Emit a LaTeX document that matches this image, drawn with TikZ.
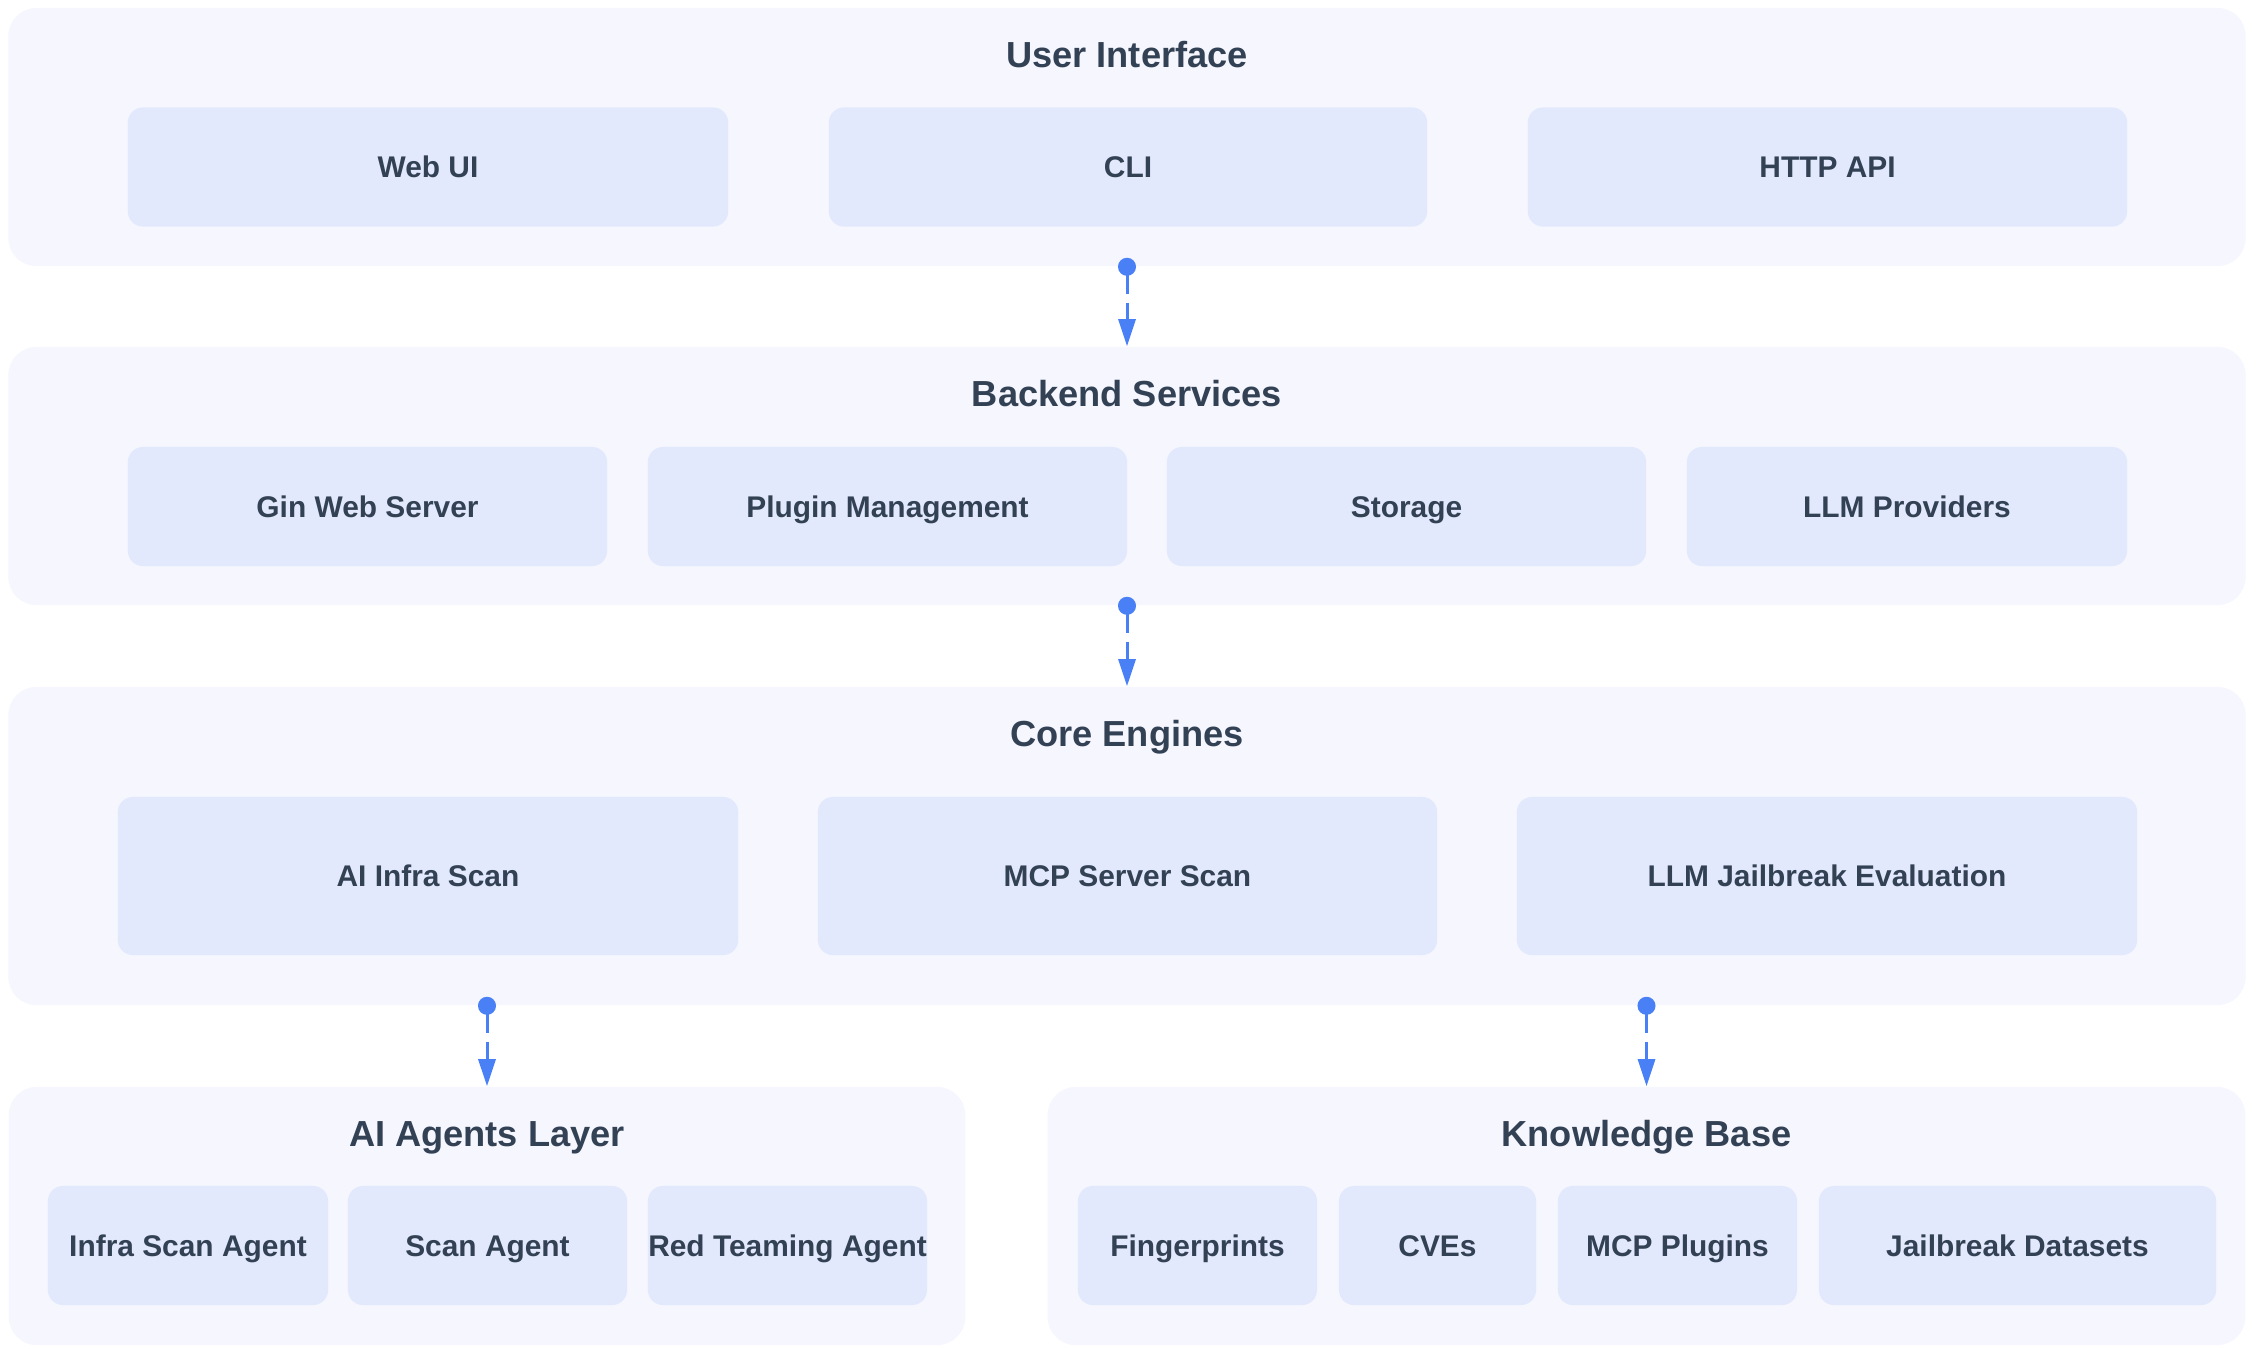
\documentclass[tikz,border=0pt]{standalone}
\usepackage{fontspec}
\setmainfont{Liberation Sans}
\usetikzlibrary{arrows.meta}
\definecolor{layerfill}{HTML}{F5F6FE}
\definecolor{boxfill}{HTML}{E3E9FC}
\definecolor{labeltext}{HTML}{334155}
\definecolor{linkblue}{HTML}{4A80F5}
\begin{document}
\begin{tikzpicture}[x=0.01cm,y=-0.01cm,
  layer/.style={fill=layerfill,rounded corners=2.8mm,inner sep=0pt,minimum height=2.58cm},
  part/.style={fill=boxfill,rounded corners=1.5mm,inner sep=0pt,minimum height=1.19cm,
    text height=6.1pt,text depth=0pt,font=\fontsize{8.5}{10}\bfseries,text=labeltext},
  title/.style={anchor=base,inner sep=0pt,font=\fontsize{10.3}{12}\bfseries,text=labeltext},
  link/.style={linkblue,line width=0.3mm,dash pattern=on 2mm off 0.9mm,
    {Circle[length=1.8mm]}-{Triangle[length=2.7mm,width=1.7mm]},shorten <=-0.9mm}]
\useasboundingbox (0,0) rectangle (2260,1348);
% layers
\node[layer,minimum width=22.36cm] (ui) at (1127,137) {};
\node[layer,minimum width=22.36cm] (be) at (1127,476) {};
\node[layer,minimum width=22.36cm,minimum height=3.18cm] (core) at (1127,846) {};
\node[layer,minimum width=9.56cm] (agents) at (487,1216) {};
\node[layer,minimum width=11.97cm] (kb) at (1646.5,1216) {};
\node[title] (uititle) at (1127,67) {User Interface};
\node[title] (betitle) at (1127,406) {Backend Services};
\node[title] (coretitle) at (1127,746) {Core Engines};
\node[title] (agentstitle) at (487,1146) {AI Agents Layer};
\node[title] (kbtitle) at (1646.5,1146) {Knowledge Base};
% user interface
\node[part,minimum width=6cm] (webui) at (428,167) {Web UI};
\node[part,minimum width=5.98cm] (cli) at (1128,167) {CLI};
\node[part,minimum width=5.99cm] (httpapi) at (1827.5,167) {HTTP API};
% backend services
\node[part,minimum width=4.79cm] (gin) at (367.5,506.5) {Gin Web Server};
\node[part,minimum width=4.79cm] (plugins) at (887.5,506.5) {Plugin Management};
\node[part,minimum width=4.79cm] (storage) at (1406.5,506.5) {Storage};
\node[part,minimum width=4.4cm] (llm) at (1907,506.5) {LLM Providers};
% core engines
\node[part,minimum width=6.2cm,minimum height=1.58cm] (infrascan) at (428,876) {AI Infra Scan};
\node[part,minimum width=6.19cm,minimum height=1.58cm] (mcpscan) at (1127.5,876) {MCP Server Scan};
\node[part,minimum width=6.2cm,minimum height=1.58cm] (jailbreak) at (1827,876) {LLM Jailbreak Evaluation};
% agents
\node[part,minimum width=2.8cm] (infraagent) at (188,1245.5) {Infra Scan Agent};
\node[part,minimum width=2.79cm] (scanagent) at (487.5,1245.5) {Scan Agent};
\node[part,minimum width=2.79cm] (redagent) at (787.5,1245.5) {Red Teaming Agent};
% knowledge base
\node[part,minimum width=2.39cm] (fingerprints) at (1197.5,1245.5) {Fingerprints};
\node[part,minimum width=1.97cm] (cves) at (1437.5,1245.5) {CVEs};
\node[part,minimum width=2.39cm] (mcpplugins) at (1677.5,1245.5) {MCP Plugins};
\node[part,minimum width=3.97cm] (datasets) at (2017.5,1245.5) {Jailbreak Datasets};
% links
\draw[link] (ui.south) -- (be.north);
\draw[link] (be.south) -- (core.north);
\draw[link] (core.south -| agents.north) -- (agents.north);
\draw[link] (core.south -| kb.north) -- (kb.north);
\end{tikzpicture}
\end{document}
